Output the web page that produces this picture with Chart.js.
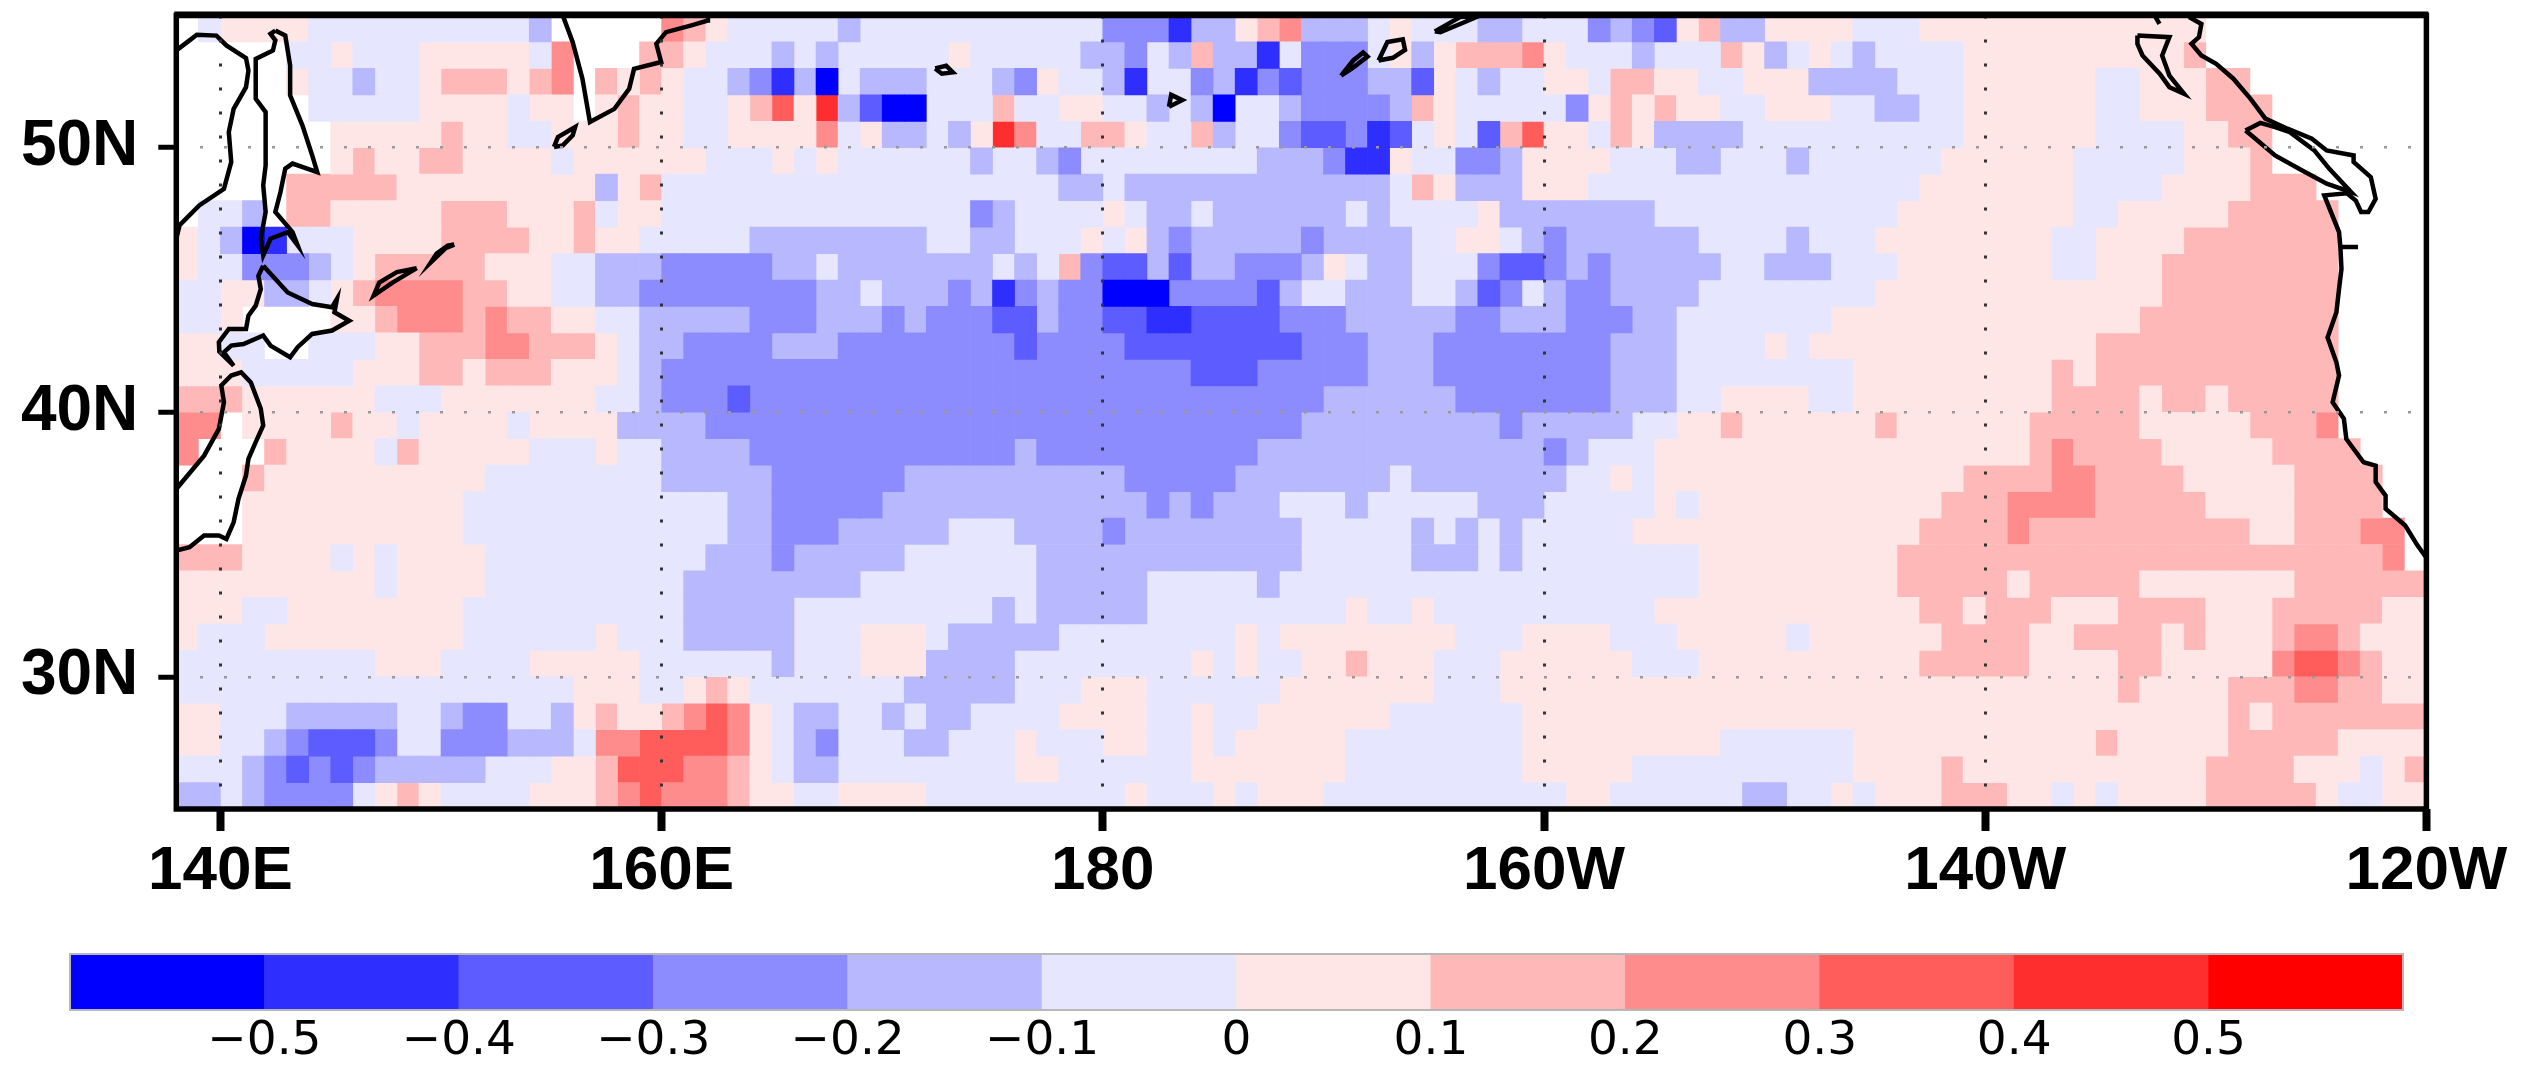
<!DOCTYPE html>
<html><head><meta charset="utf-8">
<style>
html,body{margin:0;padding:0;background:#fff;width:2539px;height:1066px;overflow:hidden}
canvas{position:absolute;left:0;filter:blur(0.7px)}
#map{top:0}#bar{top:940px}
</style>
<script src="https://cdn.jsdelivr.net/npm/chart.js@4/dist/chart.umd.min.js"></script>
</head><body>
<canvas id="map" width="2539" height="940"></canvas>
<canvas id="bar" width="2539" height="126"></canvas>
<script>
// Value bins, 0.1 wide, each letter being the bin's centre value; "_" = no data (land)
const binValues = {a:-0.05,b:-0.15,c:-0.25,d:-0.35,e:-0.45,f:-0.55,p:0.05,q:0.15,r:0.25,s:0.35,t:0.45,u:0.55};
const binColors = {f:'#0000FF',e:'#2E2EFF',d:'#5C5CFF',c:'#8C8CFF',b:'#B8B8FF',a:'#E6E6FF',p:'#FFE6E6',q:'#FFB8B8',r:'#FF8C8C',s:'#FF5C5C',t:'#FF2E2E',u:'#FF0000'};
const lonTicks = [140,160,180,200,220,240];
const lonLabels = ['140E','160E','180','160W','140W','120W'];
const latTicks = [30,40,50];
const latLabels = ['30N','40N','50N'];
const barTicks = [-0.5,-0.4,-0.3,-0.2,-0.1,0,0.1,0.2,0.3,0.4,0.5];
const barLabels = ['\u22120.5','\u22120.4','\u22120.3','\u22120.2','\u22120.1','0','0.1','0.2','0.3','0.4','0.5'];

// Each row: "<start lon><bin>" runs; a run holds until the next one (or 240 = 120W). Row N spans N..N+1.
const lat54 = "138_ 139a 140p 144a 154b 155_ 160r 161q 162p 163a 168b 169a 180c 183e 184b 186p 187q 188r 189b 192a 193p 194a 197b 199a 202c 203b 204c 205d 206p 207q 208b 210p 214a 217p 230_".split(" ");
const lat53 = "138_ 143a 145p 146a 149p 154a 155r 156_ 159q 161p 162a 165b 166a 167b 168a 173p 174a 179b 181c 182a 183b 184q 185b 187e 188a 189c 192a 193p 194b 195p 196q 199r 200p 201a 204b 205a 208q 209p 210b 211a 212p 213a 214b 215a 219p 229q 230_".split(" ");
const lat52 = "138_ 143p 144a 146b 147a 149p 150q 153p 154q 155r 156_ 157q 158p 159q 160p 161a 163b 164c 165e 166b 167f 168a 169b 172a 175b 176c 177p 178a 180b 181e 182a 184c 185b 186e 187c 188d 189c 192b 194d 195p 196a 197b 198a 200p 202a 203q 205p 207a 209p 212b 216a 219p 225a 227p 230q 232_".split(" ");
const lat51 = "138_ 144a 149p 153a 154p 156_ 157p 158q 159p 161a 163p 164q 165s 166p 167t 168b 169d 170f 172a 175q 176a 178p 180a 182b 183a 184b 185f 186a 188b 189c 193b 194q 195p 196a 201c 202p 203q 204p 205q 206p 208a 210p 213a 215b 217a 219p 225a 227p 230q 233_".split(" ");
const lat50 = "138_ 145p 150q 151p 153a 155p 158q 159p 161a 163p 167r 168a 169p 170b 172a 173b 174p 175t 176r 177a 179q 181p 182a 184q 185b 186a 188c 189d 191c 192e 193d 194a 195p 196a 197d 198q 199s 200p 202a 203q 204p 205b 209a 219p 225a 229p 231q 233_".split(" ");
const lat49 = "138_ 145p 146q 147p 149q 151p 155a 156p 162a 165p 166a 167p 168a 174b 175a 177b 178c 179a 187b 190c 191e 193p 194a 196c 198b 199p 203a 206b 208a 211b 212a 218p 224a 229p 232q 233_".split(" ");
const lat48 = "138_ 143q 148p 157b 158p 159q 160a 178b 180a 181b 193a 194q 195p 196b 199p 202a 217p 224a 228p 232q 235_".split(" ");
const lat47 = "138_ 139a 141b 142_ 143q 145p 150q 153p 156q 157a 158p 160a 174c 175b 176a 180p 181a 182b 184a 185b 191a 192b 193a 197p 198b 205a 216p 224a 226p 231q 236_".split(" ");
const lat46 = "138p 139a 140b 141f 142e 143a 146p 150q 154p 156q 157p 159a 164b 172a 174b 176a 179p 180a 181p 182b 183c 184b 189c 190b 194a 196p 198a 199b 200c 201b 207a 211b 212a 215p 223a 225p 229q 236_".split(" ");
const lat45 = "138p 139a 141c 144b 145a 146p 147q 152p 155a 157b 160c 165b 167a 168b 175a 176b 177a 178q 179c 180d 182b 183d 184b 186c 189b 190p 191a 192b 194a 197c 198d 200c 201b 202c 203b 208a 210b 213a 216p 223a 225p 228q 236_".split(" ");
const lat44 = "138a 140p 142b 144a 145p 146q 147r 151q 153p 155a 157b 159c 167b 169a 170b 173c 174b 175e 176c 177b 178c 180f 183c 187d 188b 189a 191b 194a 196b 197d 198c 199a 200b 201c 203b 207a 215p 228q 236_".split(" ");
const lat43 = "138a 140p 141_ 145p 147q 148r 151q 152r 153q 155p 157a 159b 164c 167b 170c 171b 172c 175d 177b 178c 180d 182e 184d 188c 191b 196c 198b 201c 204b 206a 213p 227q 236_".split(" ");
const lat42 = "138p 140a 142_ 144a 147p 149q 152r 154q 157p 158a 159b 161c 165b 168c 176d 177c 181d 189c 192b 195c 203b 206a 210p 211a 212p 225q 236_".split(" ");
const lat41 = "138p 141a 146p 149q 151p 152q 155p 158a 159b 160c 184d 187c 192b 195c 203b 206a 214p 223q 224p 225q 236_".split(" ");
const lat40 = "138q 141p 147a 150p 157a 159b 160c 163d 164c 190b 196c 203b 206a 208p 212a 214p 223q 227p 228q 230p 231q 236_".split(" ");
const lat39 = "138r 140_ 141p 145q 146p 148a 149p 153a 154p 158b 162c 189b 198c 199b 204a 206p 208q 209p 215q 216p 222q 227p 232q 235r 236_".split(" ");
const lat38 = "138r 139_ 142q 143p 147a 148q 149p 154a 157p 158a 160b 164c 176b 177c 187b 200c 201b 202a 205p 222q 223r 224q 228p 233q 237_".split(" ");
const lat37 = "138_ 141q 142p 152a 160b 165c 171b 181c 186b 193a 194b 201a 203p 204a 205p 219q 223r 225q 229p 234q 238_".split(" ");
const lat36 = "138_ 141p 151a 163b 165c 170b 182c 183b 184c 185b 188a 191b 192a 197b 200a 205p 206a 207p 218q 221r 225q 230p 234q 238_".split(" ");
const lat35 = "138_ 141p 151a 163b 165c 168b 173a 176b 180c 181b 189a 194b 195a 196b 197a 198b 199a 204p 217q 221r 222q 232p 234q 237r 239_".split(" ");
const lat34 = "138q 141p 145a 146p 147a 148p 152a 162b 165c 166b 171a 177b 189a 194b 197a 198b 199a 207p 216q 238r 239_".split(" ");
const lat33 = "138p 147a 148p 152a 161b 169a 177b 182a 187b 188a 207p 216q 221p 222q 227p 234q".split(" ");
const lat32 = "138p 141a 143p 151a 161b 166a 175b 176a 177b 182a 191p 192a 194p 195a 205p 217q 219p 220q 223p 226q 230p 233q 238p".split(" ");
const lat31 = "138p 139a 142p 151a 157p 158a 161b 166a 169p 172a 173b 178a 186p 187a 188p 196a 199p 203a 206p 211a 212p 218q 222p 224q 228p 229q 230p 233q 234r 236q 237p".split(" ");
const lat30 = "138a 147p 150a 154p 159a 165b 166a 169p 172b 176a 184p 185a 186p 187a 189p 191q 192p 195a 198p 204a 207p 217q 222p 226q 228p 233r 234s 236r 237q 238p".split(" ");
const lat29 = "138a 156p 159a 161p 162q 163p 164a 171b 176a 179p 182a 188p 195a 198p 226q 227p 231q 234r 236q 238p".split(" ");
const lat28 = "138p 140a 143b 148a 150b 151c 153a 155b 156p 157q 158p 160q 161r 162s 163r 164p 165a 166b 168a 170b 171a 172b 174a 178p 182a 184p 185a 187p 193a 199p 231q 232p 233q".split(" ");
const lat27 = "138p 140a 142b 143c 144d 147c 148a 150c 153b 156a 157r 159s 163r 164p 165a 166b 167c 168a 171b 173a 176p 177a 180p 182a 184p 185a 186p 191a 199p 208a 214p 225q 226p 231q 236p".split(" ");
const lat26 = "138a 141b 142c 143d 144c 145d 146c 147b 152a 155p 157q 158s 161r 163q 164p 165a 166b 168a 176p 178a 184p 191a 199p 204a 214p 218q 219p 230q 234p 237a 238p 239q".split(" ");
const lat25 = "138b 140a 141b 142c 146a 147p 148q 149p 150a 154p 157q 158r 159s 160r 163q 164p 166a 168p 172a 181p 182a 185p 186a 187p 190a 201p 203a 209b 211a 213p 214a 215p 218q 221p 223a 224p 225a 226p 230q 235p 236a 238p".split(" ");
const rows = {25:lat25,26:lat26,27:lat27,28:lat28,29:lat29,30:lat30,31:lat31,32:lat32,33:lat33,34:lat34,35:lat35,36:lat36,37:lat37,38:lat38,39:lat39,40:lat40,41:lat41,42:lat42,43:lat43,44:lat44,45:lat45,46:lat46,47:lat47,48:lat48,49:lat49,50:lat50,51:lat51,52:lat52,53:lat53,54:lat54};

// Coastlines, as [lon, lat] (lon 0..360)
const coastRussia = [[138,53.68],[138.6,54.06],[138.93,54.27],[139.82,54.24],[140.27,53.87],[141.16,53.39],[141.27,52.92],[141.16,52.29],[140.6,51.47],[140.38,50.59],[140.49,49.46],[140.16,48.45],[139.04,47.82],[138.15,47.07],[138,46.56]];
const coastSakhalin = [[142.49,54.43],[142.94,54.24],[143.16,53.11],[143.16,51.98],[143.72,50.84],[144.16,49.71],[144.39,49.08],[143.27,49.4],[142.94,49.21],[142.72,48.32],[142.49,47.57],[143.27,46.81],[143.5,46.31],[143.05,46.81],[142.27,46.56],[141.94,45.93],[141.83,46.56],[142.05,47.57],[141.94,48.58],[142.05,49.33],[142.05,50.21],[142.05,51.35],[141.6,51.85],[141.6,52.61],[141.6,53.36],[142.38,53.68],[142.49,54.06],[142.27,54.31],[142.49,54.43]];
const coastKamchatka = [[155.52,55],[155.97,53.99],[156.41,52.61],[156.75,50.97],[157.86,51.47],[158.53,52.23],[158.75,52.98],[159.98,53.24],[159.76,53.93],[160.2,54.37],[161.31,54.62],[162.09,54.81],[162.1,55]];
const coastParamushir = [[155.12,50.03],[155.3,50.4],[156.08,50.78],[155.97,50.47],[155.52,50.09],[155.12,50.03]];
const coastUrup = [[150.6,46.34],[150.2,46.2],[149.55,45.68],[149.8,46.0],[150.3,46.3],[150.6,46.34]];
const coastIturup = [[148.9,45.45],[147.8,44.9],[146.95,44.41],[147.2,44.9],[148.0,45.3],[148.9,45.45]];
const coastHokkaido = [[141.94,45.54],[143.05,44.53],[144.16,44.09],[145.06,43.97],[145.28,44.28],[145.17,43.78],[145.84,43.46],[145.06,43.09],[144.16,42.96],[143.5,42.46],[143.16,42.08],[142.27,42.52],[141.94,42.9],[141.05,42.58],[140.49,42.52],[140.16,42.27],[140.6,41.76],[139.95,42.3],[139.93,42.65],[140.38,43.15],[141.16,43.15],[141.27,43.65],[141.6,44.03],[141.83,44.66],[141.72,45.16],[141.94,45.54]];
const coastHonshu = [[138,37.1],[139.26,38.36],[139.93,39.37],[140.16,40.38],[140.04,41.01],[140.49,41.39],[140.94,41.51],[141.38,41.13],[141.83,40.13],[141.94,39.5],[141.6,38.87],[141.27,38.24],[141.16,37.61],[140.82,36.73],[140.6,35.84],[140.27,35.21],[139.93,35.34],[139.26,35.34],[138.6,34.9],[138,34.77]];
const coastAleut1 = [[172.4,53.0],[172.9,53.1],[173.2,52.85],[172.7,52.8],[172.4,53.0]];
const coastAleut2 = [[183.0,51.55],[183.1,52.0],[183.6,51.8],[183.0,51.55]];
const coastAleut3 = [[190.8,52.73],[191.35,53.3],[191.8,53.6],[192.0,53.45],[191.3,53.0],[190.8,52.73]];
const coastAleut4 = [[192.5,53.3],[192.9,54.0],[193.6,54.1],[193.7,53.7],[193.15,53.4],[192.5,53.3]];
const coastAleut5 = [[195.05,54.4],[196.2,54.94],[197.1,55],[196.2,54.68],[195.3,54.37],[195.05,54.4]];
const coastHaida = [[226.9,54.24],[228.35,54.18],[228.02,53.49],[228.35,52.73],[229.02,52.04],[228.35,52.29],[227.91,52.8],[227.13,53.49],[226.9,53.93],[226.9,54.24]];
const coastAlaskaTip = [[227.68,55],[227.9,54.68]];
const coastVancouver = [[231.8,50.65],[232.47,50.94],[233.14,50.78],[233.81,50.59],[234.92,49.9],[235.59,49.21],[236.59,48.32],[235.48,48.64],[234.37,49.14],[233.14,49.71],[232.25,50.34],[231.8,50.65]];
const coastAmerica = [[229.24,54.94],[229.8,54.68],[229.69,54.18],[229.35,53.93],[229.8,53.49],[230.47,53.17],[231.25,52.61],[232.03,51.85],[232.7,51.1],[233.7,50.72],[234.81,50.34],[235.48,49.9],[236.7,49.71],[236.7,49.46],[237.48,48.89],[237.7,48.07],[237.37,47.57],[237.04,47.57],[236.8,48.0],[236.4,48.28],[235.37,48.2],[236.04,46.81],[236.1,46.25],[236.9,46.25],[236.1,46.25],[236.15,45.42],[236.04,44.66],[235.92,43.78],[235.52,42.83],[235.92,41.89],[236.04,41.39],[235.75,40.38],[236.26,39.75],[236.37,38.99],[237.15,38.11],[237.7,37.98],[237.7,37.36],[238.15,36.85],[238.15,36.35],[239.04,35.72],[239.6,34.96],[240,34.5]];
const coasts = [coastRussia,coastSakhalin,coastKamchatka,coastParamushir,coastUrup,coastIturup,coastHokkaido,coastHonshu,coastAleut1,coastAleut2,coastAleut3,coastAleut4,coastAleut5,coastHaida,coastAlaskaTip,coastVancouver,coastAmerica];

const FONT = '"Liberation Sans", Arial, sans-serif';
const cells = {};
Object.keys(binColors).forEach(k => cells[k] = []);
Object.keys(rows).forEach(lat => {
  const runs = rows[lat], la = +lat;
  runs.forEach((tok, i) => {
    const start = parseInt(tok), bin = tok.slice(-1);
    const end = i + 1 < runs.length ? parseInt(runs[i + 1]) : 240;
    if (bin === '_') return;
    for (let lon = start; lon < end; lon++) cells[bin].push({x: lon + 0.5, y: [la, la + 1], v: binValues[bin]});
  });
});
const datasets = Object.keys(binColors).map(k => ({
  type: 'bar', data: cells[k], backgroundColor: binColors[k], borderWidth: 0,
  barPercentage: 1, categoryPercentage: 1, grouped: false, order: 2
})).concat(coasts.map(c => ({
  type: 'line', data: c.map(p => ({x: p[0], y: p[1]})), borderColor: '#000', borderWidth: 4.5,
  pointRadius: 0, tension: 0, fill: false, order: 1
})));

const framePlugin = {
  id: 'frame',
  afterDraw(chart) {
    const a = chart.chartArea, c = chart.ctx;
    c.save();
    c.strokeStyle = '#000';
    c.lineWidth = 5.5;
    c.strokeRect(a.left, a.top, a.right - a.left, a.bottom - a.top);
    c.lineWidth = 4;
    c.beginPath(); c.moveTo(a.left - 2, a.top - 2); c.lineTo(a.right + 2, a.top - 2); c.stroke();
    c.restore();
  }
};

new Chart(document.getElementById('map'), {
  type: 'bar',
  data: {datasets},
  plugins: [framePlugin],
  options: {
    responsive: false, animation: false, events: [],
    layout: {padding: {left: 0, top: 15.5, right: 112.6, bottom: 0}},
    plugins: {legend: {display: false}, tooltip: {enabled: false}, title: {display: false}},
    scales: {
      x: {
        type: 'linear', min: 138, max: 240, offset: false,
        afterBuildTicks: s => { s.ticks = lonTicks.map(v => ({value: v})); },
        afterFit: s => { s.height = 131; s.paddingLeft = 0; s.paddingRight = 0; },
        grid: {z: 1, color: '#333', lineWidth: 3, tickColor: '#000', tickWidth: 8, tickLength: 22, tickBorderDash: [], offset: false},
        border: {display: false, dash: [3, 21]},
        ticks: {autoSkip: false, maxRotation: 0, minRotation: 0, padding: 4, color: '#000',
          font: {family: FONT, size: 62, weight: 'bold'},
          callback: (v, i) => lonLabels[i]}
      },
      y: {
        type: 'linear', min: 25, max: 55,
        afterBuildTicks: s => { s.ticks = latTicks.map(v => ({value: v})); },
        afterFit: s => { s.width = 176.3; s.paddingTop = 0; s.paddingBottom = 0; },
        grid: {z: 1, color: '#999', lineWidth: 2.5, tickColor: '#000', tickWidth: 5, tickLength: 18, tickBorderDash: []},
        border: {display: false, dash: [3, 21]},
        ticks: {autoSkip: false, padding: 20, color: '#000',
          font: {family: FONT, size: 64, weight: 'bold'},
          callback: (v, i) => latLabels[i]}
      }
    }
  }
});

// Colour bar
const barCenters = [-0.55,-0.45,-0.35,-0.25,-0.15,-0.05,0.05,0.15,0.25,0.35,0.45,0.55];
const barBins = ['f','e','d','c','b','a','p','q','r','s','t','u'];
const barFrame = {
  id: 'barFrame',
  afterDatasetsDraw(chart) {
    const a = chart.chartArea, c = chart.ctx;
    c.save(); c.strokeStyle = '#b8b8b8'; c.lineWidth = 2;
    c.strokeRect(a.left, a.top, a.right - a.left, a.bottom - a.top);
    c.restore();
  }
};
new Chart(document.getElementById('bar'), {
  type: 'bar',
  data: {datasets: [{
    data: barCenters.map(v => ({x: v, y: [0, 1]})),
    backgroundColor: barBins.map(k => binColors[k]),
    borderWidth: 0, barPercentage: 1, categoryPercentage: 1
  }]},
  plugins: [barFrame],
  options: {
    responsive: false, animation: false, events: [],
    layout: {padding: {left: 70, top: 14, right: 136, bottom: 0}},
    plugins: {legend: {display: false}, tooltip: {enabled: false}},
    scales: {
      x: {
        type: 'linear', min: -0.6, max: 0.6, offset: false,
        afterBuildTicks: s => { s.ticks = barTicks.map(v => ({value: v})); },
        afterFit: s => { s.height = 56; s.paddingLeft = 0; s.paddingRight = 0; },
        grid: {display: false, drawTicks: false},
        border: {display: false},
        ticks: {autoSkip: false, maxRotation: 0, minRotation: 0, padding: 4, color: '#000',
          font: {family: '"DejaVu Sans", sans-serif', size: 47},
          callback: (v, i) => barLabels[i]}
      },
      y: {type: 'linear', min: 0, max: 1, display: false}
    }
  }
});
</script>
</body></html>
